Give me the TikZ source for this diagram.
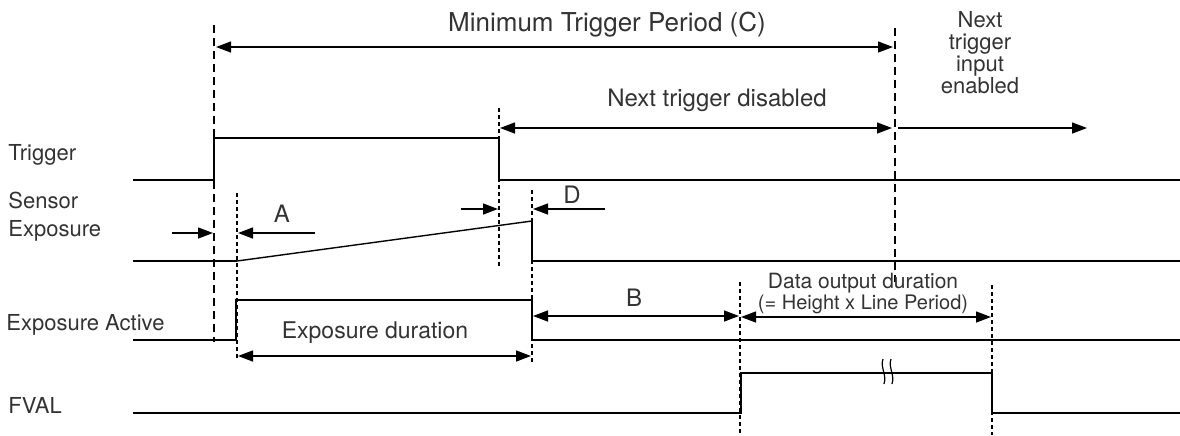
\documentclass[tikz,border=0pt]{standalone}
\usepackage{fontspec}
\setmainfont{TeX Gyre Heros}
\usetikzlibrary{arrows.meta,positioning}
\tikzset{
  wave/.style={line width=1.1pt},
  tdash/.style={dash pattern=on 4pt off 2.5pt, line width=0.55pt},
  fdash/.style={dash pattern=on 2pt off 1.5pt, line width=0.55pt},
  dim/.style={{Triangle[length=7.5pt,width=5.5pt]}-{Triangle[length=7.5pt,width=5.5pt]}, line width=0.7pt},
  tip/.style={-{Triangle[length=7.5pt,width=5.5pt]}, line width=0.7pt},
  lbl/.style={font=\fontsize{11}{13}\selectfont, text=black!80, inner sep=0pt},
  sig/.style={lbl, anchor=west, align=left}
}
\begin{document}
\begin{tikzpicture}[x=0.5pt,y=-0.5pt]
  \useasboundingbox (0,0) rectangle (1180,435);

  % Signal names
  \node[sig] (ltrig) at (8,155) {Trigger};
  \node[sig, font=\fontsize{11}{14}\selectfont] (lsens) at (8,217) {Sensor\\Exposure};
  \node[sig] (lexp) at (6,325) {Exposure Active};
  \node[sig] (lfval) at (8,405) {FVAL};

  % Waveforms
  \draw[wave] (133,180) -- (214,180) -- (214,138) -- (499,138) -- (499,180) -- (1180,180);
  \draw[wave] (133,261) -- (237,261);
  \draw[line width=0.7pt] (237,261) -- (532,221);
  \draw[wave] (532,221) -- (532,261) -- (1180,261);
  \draw[wave] (133,340) -- (236,340) -- (236,300) -- (532,300) -- (532,340) -- (1180,340);
  \draw[wave] (133,413) -- (741,413) -- (741,373) -- (992,373) -- (992,413) -- (1180,413);

  % Break mark on FVAL
  \draw[line width=0.6pt] (883,359) .. controls (880,367) and (887,375) .. (884,384);
  \draw[line width=0.6pt] (891,359) .. controls (888,367) and (895,375) .. (892,384);

  % Timing marks
  \draw[tdash] (214,25) -- (214,342);
  \draw[fdash] (237,193) -- (237,360);
  \draw[fdash] (499,108) -- (499,268);
  \draw[fdash] (532,190) -- (532,362);
  \draw[fdash] (740,282) -- (740,435);
  \draw[tdash] (895,28) -- (895,282);
  \draw[fdash] (992,285) -- (992,435);

  % Minimum trigger period
  \coordinate (c0) at (216,47);
  \coordinate (c1) at (893,47);
  \draw[dim] (c0) -- (c1);
  \node[lbl, font=\fontsize{13}{15}\selectfont] (lc) at (607,25) {Minimum Trigger Period (C)};

  % Next trigger disabled / enabled
  \coordinate (n0) at (500,128);
  \coordinate (n1) at (892,128);
  \coordinate (n2) at (898,128);
  \coordinate (n3) at (1087,128);
  \draw[dim] (n0) -- (n1);
  \draw[tip] (n2) -- (n3);
  \node[lbl, font=\fontsize{12}{14}\selectfont] (ldis) at (717,100) {Next trigger disabled};
  \node[lbl, align=center, font=\fontsize{11}{11}\selectfont] (len) at (980,53) {Next\\trigger\\input\\enabled};

  % Delay A
  \coordinate (a0) at (172,233);
  \coordinate (a1) at (213,233);
  \coordinate (a2) at (315,233);
  \coordinate (a3) at (238,233);
  \draw[tip] (a0) -- (a1);
  \draw[tip] (a2) -- (a3);
  \node[lbl, font=\fontsize{12}{14}\selectfont] (la) at (282,214) {A};

  % Delay D
  \coordinate (d0) at (461,209);
  \coordinate (d1) at (498,209);
  \coordinate (d2) at (605,209);
  \coordinate (d3) at (533,209);
  \draw[tip] (d0) -- (d1);
  \draw[tip] (d2) -- (d3);
  \node[lbl, font=\fontsize{12}{14}\selectfont] (ld) at (572,195) {D};

  % Exposure duration
  \coordinate (e0) at (238,356);
  \coordinate (e1) at (531,356);
  \draw[dim] (e0) -- (e1);
  \node[lbl, font=\fontsize{11.5}{14}\selectfont] (lexd) at (375,333) {Exposure duration};

  % Delay B
  \coordinate (b0) at (533,316);
  \coordinate (b1) at (739,316);
  \draw[dim] (b0) -- (b1);
  \node[lbl, font=\fontsize{12}{14}\selectfont] (lb) at (634,298) {B};

  % Data output duration
  \coordinate (o0) at (741,317);
  \coordinate (o1) at (991,317);
  \draw[dim] (o0) -- (o1);
  \node[lbl, font=\fontsize{10.5}{12}\selectfont] (ldat) at (863,283) {Data output duration};
  \node[lbl, font=\fontsize{10}{12}\selectfont] (lper) at (863,304) {(= Height x Line Period)};
\end{tikzpicture}
\end{document}
